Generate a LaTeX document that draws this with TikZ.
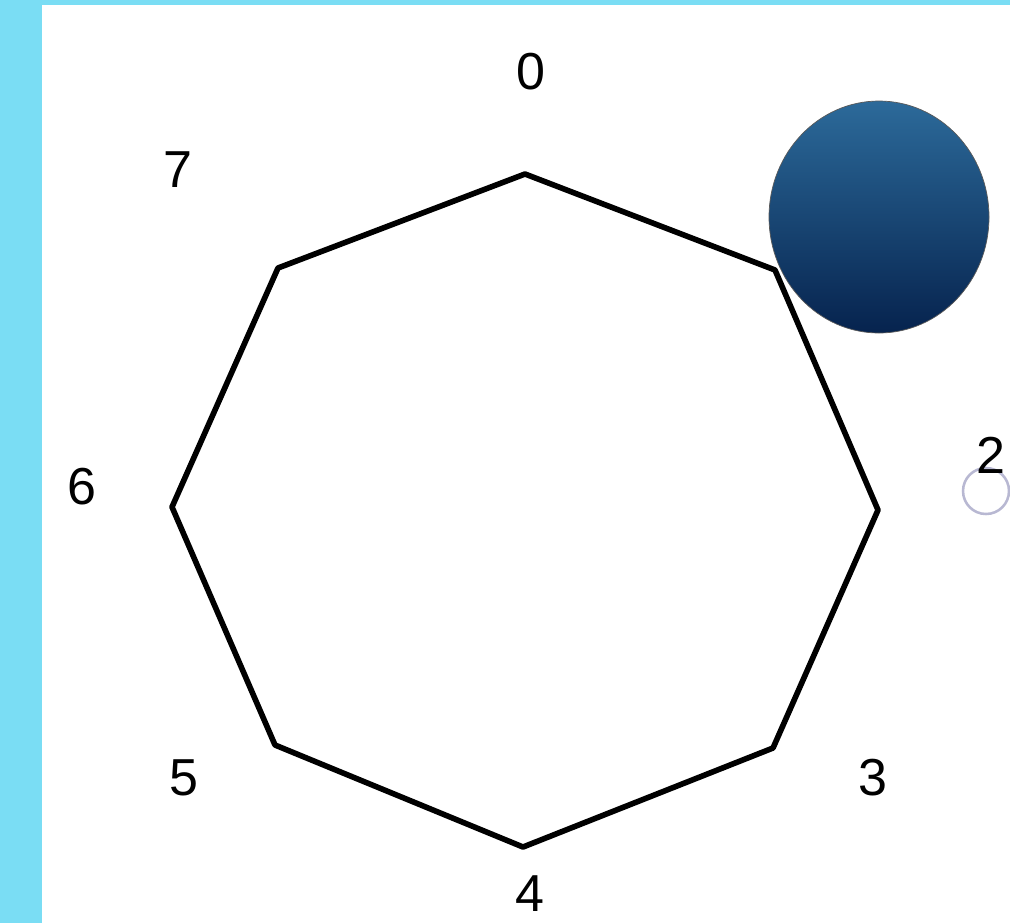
\documentclass[tikz,border=0pt]{standalone}
\usepackage{fontspec}
\setmainfont{Liberation Sans}
\usepackage{tikz}

\definecolor{barre}{RGB}{122,221,244}
\definecolor{bouleh}{RGB}{44,106,154}
\definecolor{bouleb}{RGB}{6,35,78}
\definecolor{petit}{RGB}{184,184,210}

\tikzset{
  numero/.style={font=\fontsize{37}{44}\selectfont, inner sep=0pt},
  octo/.style={line width=4pt, line join=round},
}

\begin{document}
\begin{tikzpicture}[x=0.025cm, y=-0.025cm]
  % fond et bandes bleues
  \fill[white] (0,0) rectangle (1010,923);
  \fill[barre] (0,0) rectangle (42,923);
  \fill[barre] (0,0) rectangle (1010,5);
  \useasboundingbox (0,0) rectangle (1010,923);

  % sommets de l'octogone
  \coordinate (s0) at (525,174);
  \coordinate (s1) at (775,270);
  \coordinate (s2) at (878,510);
  \coordinate (s3) at (773,748);
  \coordinate (s4) at (523,847);
  \coordinate (s5) at (275,745);
  \coordinate (s6) at (172,507);
  \coordinate (s7) at (278,268);
  \draw[octo] (s0) -- (s1) -- (s2) -- (s3) -- (s4) -- (s5) -- (s6) -- (s7) -- cycle;

  % numeros
  \node[numero] (n0) at (531,72) {0};
  \node[numero] (n7) at (178,170) {7};
  \node[numero] (n6) at (82,487) {6};
  \node[numero] (n5) at (184,778) {5};
  \node[numero] (n4) at (530,894) {4};
  \node[numero] (n3) at (873,778) {3};

  % petit cercle et la boule
  \draw[petit, line width=1.8pt] (986,491) circle [radius=23];
  \node[numero] (n2) at (991,455) {2};
  \shade[top color=bouleh, bottom color=bouleb, draw=gray!70!black, line width=0.5pt]
    (879,217) ellipse [x radius=110, y radius=116];
\end{tikzpicture}
\end{document}
